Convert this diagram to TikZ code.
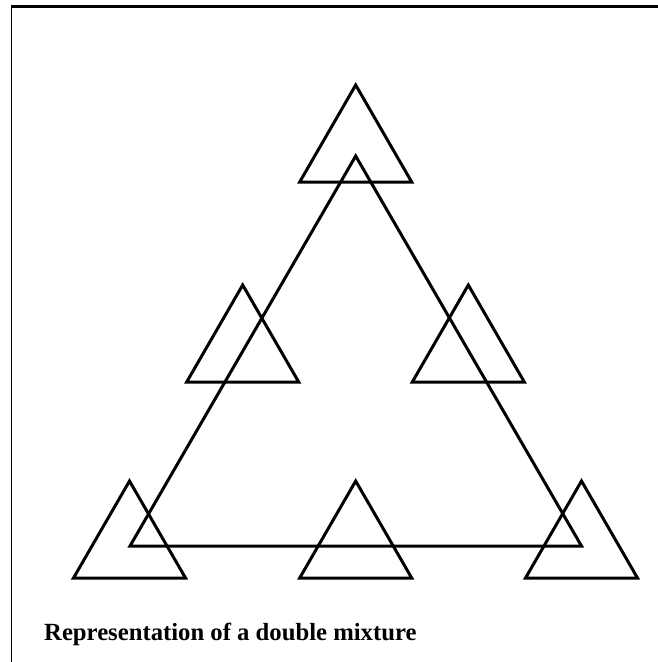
\documentclass[tikz,border=0pt]{standalone}
\usepackage{fontspec}
\setmainfont{Liberation Serif}
\begin{document}
\begin{tikzpicture}[x=1pt,y=-1pt,
  tri/.style={line width=3pt,line join=miter},
  frameline/.style={line width=1.5pt},
  caption/.style={anchor=base west,inner sep=0pt,font=\fontsize{24.7}{28}\selectfont\bfseries}]
\useasboundingbox (0,0) rectangle (658,662);
% frame (top and left edges)
\draw[line width=3pt] (11,6.8) -- (658,6.8);
\draw[frameline] (11.5,6) -- (11.5,662);
% big triangle
\coordinate (A) at (355.7,156);
\coordinate (B) at (130,546);
\coordinate (C) at (581.5,546);
\draw[tri] (A) -- (B) -- (C) -- cycle;
% small triangles: apex given, side 112
\foreach \n/\x/\y in {t/355.7/85, ml/242.7/285, mr/468.3/285, bl/129.5/481, bm/355.7/481, br/581.5/481}{
  \coordinate (\n) at (\x,\y);
  \draw[tri] (\n) -- ++(-56,97) -- ++(112,0) -- cycle;
}
\node[caption] (cap) at (44,640) {Representation of a double mixture};
\end{tikzpicture}
\end{document}
